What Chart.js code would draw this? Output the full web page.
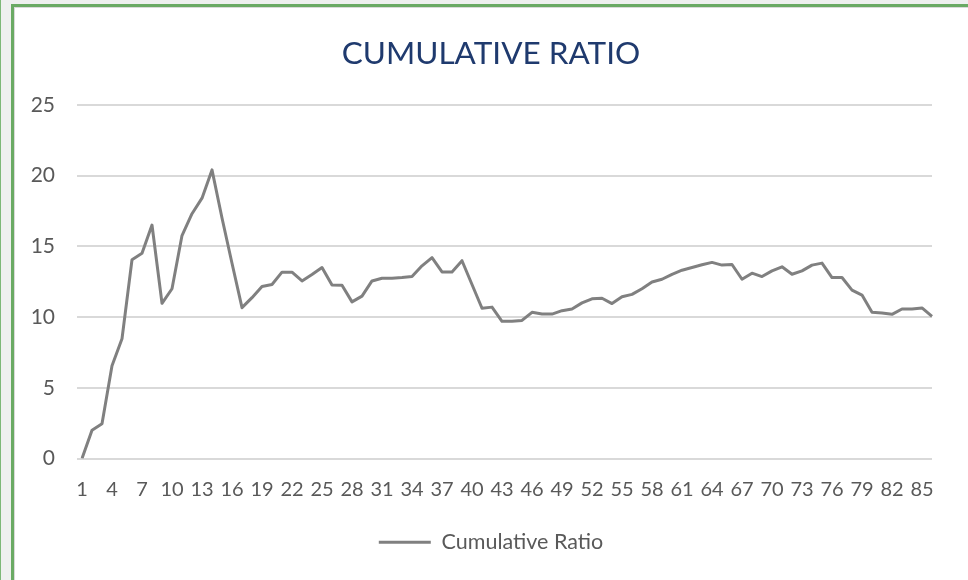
<!DOCTYPE html>
<html>
<head>
<meta charset="utf-8">
<script src="https://cdn.jsdelivr.net/npm/chart.js@4/dist/chart.umd.min.js"></script>
<style>
  html, body { margin: 0; padding: 0; width: 968px; height: 580px; overflow: hidden; background: #eef0ef; }
  #edge { position: absolute; left: 0; top: 0; width: 1px; height: 580px; background: #7db878; }
  #frame { position: absolute; left: 11px; top: 4px; right: 0; bottom: 0; background: #fff;
           border-left: 3px solid #6aaa64; border-top: 3px solid #6aaa64; box-shadow: inset 1px 1px 0 #dadada; }
  #chart { position: absolute; left: 0; top: 0; }
</style>
</head>
<body>
<div id="edge"></div>
<div id="frame"></div>
<canvas id="chart" width="968" height="580"></canvas>
<script>
let periods = [1, 2, 3, 4, 5, 6, 7, 8, 9, 10, 11, 12, 13, 14, 15, 16, 17, 18, 19, 20,
  21, 22, 23, 24, 25, 26, 27, 28, 29, 30, 31, 32, 33, 34, 35, 36, 37, 38, 39, 40,
  41, 42, 43, 44, 45, 46, 47, 48, 49, 50, 51, 52, 53, 54, 55, 56, 57, 58, 59, 60,
  61, 62, 63, 64, 65, 66, 67, 68, 69, 70, 71, 72, 73, 74, 75, 76, 77, 78, 79, 80,
  81, 82, 83, 84, 85, 86];

let cumulativeRatio = [0, 2.0, 2.45, 6.56, 8.46, 14.05, 14.5, 16.5, 10.97, 12.0,
  15.76, 17.3, 18.4, 20.4, 17.0, 13.8, 10.66, 11.37, 12.16, 12.3,
  13.17, 13.17, 12.55, 13.0, 13.5, 12.26, 12.24, 11.07, 11.48, 12.55,
  12.74, 12.74, 12.79, 12.86, 13.62, 14.2, 13.19, 13.19, 13.98, 12.3,
  10.62, 10.7, 9.7, 9.7, 9.76, 10.33, 10.21, 10.21, 10.45, 10.57,
  11.0, 11.29, 11.33, 10.95, 11.43, 11.6, 12.0, 12.48, 12.67, 13.02,
  13.31, 13.5, 13.69, 13.86, 13.67, 13.71, 12.67, 13.1, 12.86, 13.26,
  13.55, 13.02, 13.26, 13.67, 13.81, 12.79, 12.79, 11.9, 11.55, 10.33,
  10.29, 10.19, 10.57, 10.57, 10.64, 10.05];

let yTicks = [0, 5, 10, 15, 20, 25];

let ctx = document.getElementById("chart").getContext("2d");

// let the y labels spill left of the narrow axis box without being clipped
let unclipY = {
  id: "unclipY",
  afterLayout: function (chart) {
    chart.scales.y.left = 0;
  },
};

let ratioChart = new Chart(ctx, {
  type: "line",
  data: {
    labels: periods,
    datasets: [
      {
        label: "Cumulative Ratio",
        data: cumulativeRatio,
        borderColor: "#808080",
        backgroundColor: "#808080",
        borderWidth: 3,
        pointRadius: 0,
        tension: 0,
        borderJoinStyle: "round",
      },
    ],
  },
  plugins: [unclipY],
  options: {
    responsive: false,
    animation: false,
    layout: {
      padding: { left: 50, right: 36, top: 35, bottom: 17 },
    },
    plugins: {
      title: {
        display: true,
        text: "CUMULATIVE RATIO",
        color: "#1f3a6e",
        font: { family: "Lato", size: 31.5, weight: "normal" },
        padding: { top: 0, bottom: 32 },
      },
      legend: {
        position: "bottom",
        labels: {
          usePointStyle: true,
          pointStyle: "line",
          pointStyleWidth: 52,
          color: "#595959",
          font: { family: "Lato", size: 21.5 },
        },
      },
      tooltip: { enabled: false },
    },
    scales: {
      x: {
        grid: { display: false },
        border: { display: false },
        ticks: {
          autoSkip: false,
          maxRotation: 0,
          color: "#595959",
          font: { family: "Lato", size: 20 },
          padding: 11,
          callback: function (val, i) {
            return i % 3 === 0 ? this.getLabelForValue(val) : "";
          },
        },
        afterFit: function (axis) {
          axis.height = 63;
        },
      },
      y: {
        min: 0,
        max: 25,
        afterBuildTicks: function (axis) {
          axis.ticks = yTicks.map((v) => ({ value: v }));
        },
        grid: { color: "#d9d9d9", lineWidth: 2, tickLength: 5, tickColor: "#d9d9d9" },
        border: { display: false },
        ticks: {
          color: "#595959",
          font: { family: "Lato", size: 21 },
          padding: 22,
        },
        afterFit: function (axis) {
          axis.width = 32;
        },
      },
    },
  },
});
</script>
</body>
</html>
